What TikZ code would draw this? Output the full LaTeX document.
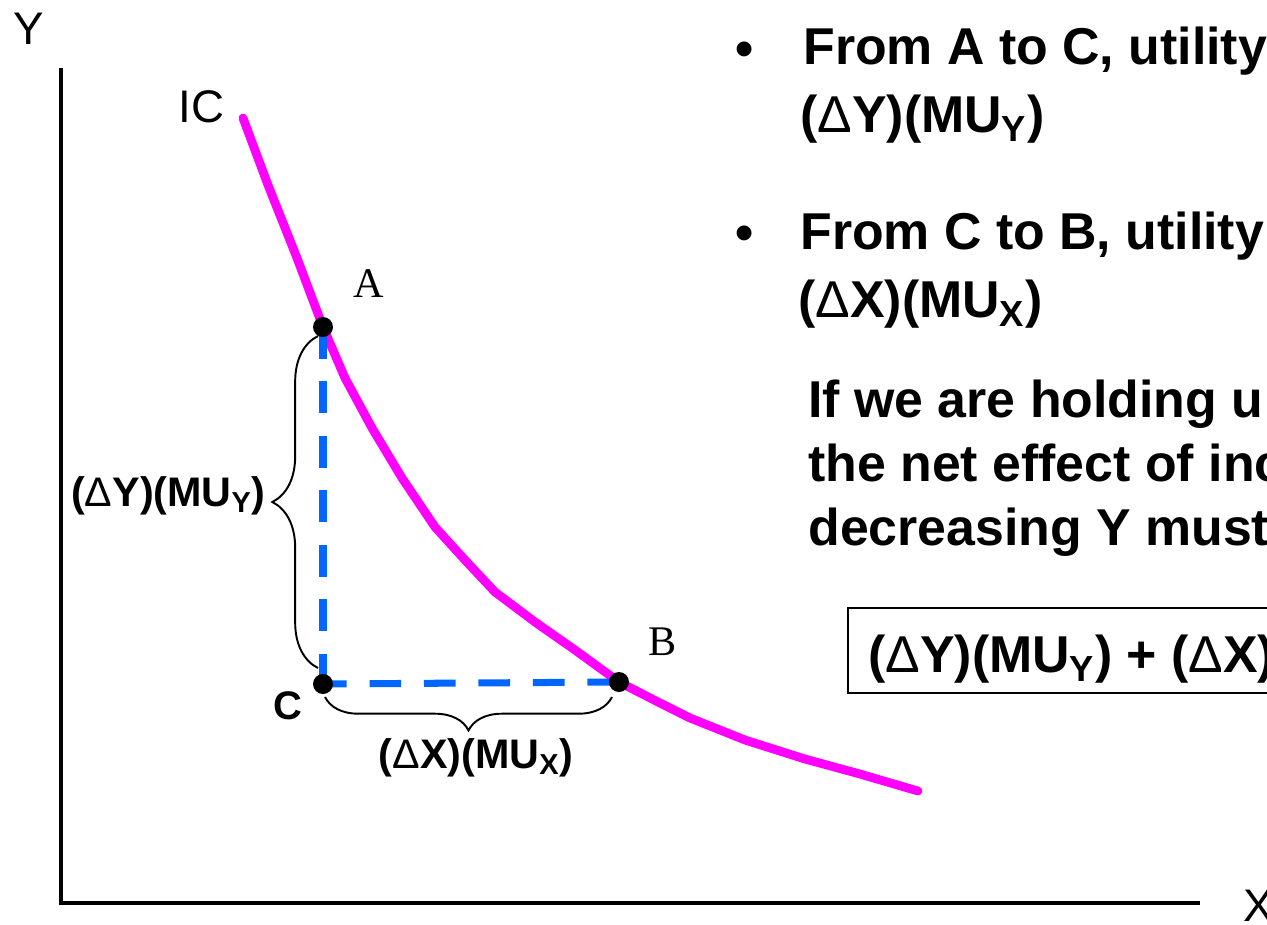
\documentclass[tikz,border=0pt]{standalone}
\usepackage{fontspec}
\setmainfont{Liberation Sans}
\newfontfamily\seriffont{Liberation Serif}
\usetikzlibrary{decorations.pathreplacing}
\definecolor{icmag}{RGB}{255,0,255}
\definecolor{dashblue}{RGB}{0,102,255}
\newcommand{\dlt}{{\mdseries Δ}}
\newcommand{\sbs}[1]{\textsubscript{#1}}
\begin{document}
\begin{tikzpicture}[x=0.02cm,y=-0.02cm,
  axisline/.style={line width=2.3pt},
  icline/.style={icmag,line width=5pt,line cap=round,line join=round},
  dashline/.style={dashblue,line width=4pt,dash pattern=on 18pt off 13pt},
  dot/.style={circle,fill=black,inner sep=0pt,minimum size=0.4cm},
  bracestyle/.style={decorate,line width=1.1pt},
  bigtxt/.style={font=\fontsize{29.5}{35}\selectfont\bfseries,anchor=base west,inner sep=0pt},
  axlbl/.style={font=\fontsize{26}{30}\selectfont,anchor=base west,inner sep=0pt},
  ptlbl/.style={font=\fontsize{24}{28}\seriffont,anchor=base west,inner sep=0pt},
  brlbl/.style={font=\fontsize{23.5}{28}\selectfont\bfseries,inner sep=0pt}
]
\useasboundingbox (0,0) rectangle (1267,924);
\clip (0,0) rectangle (1267,924);

% axes
\coordinate (ytop) at (61,68);
\coordinate (orig) at (61,903);
\coordinate (xend) at (1200,903);
\draw[axisline] (ytop) -- (orig) -- (xend);
\node[axlbl] (ylab) at (13,44) {Y};
\node[axlbl] (xlab) at (1243,921) {X};

% points
\coordinate (pA) at (323,327);
\coordinate (pB) at (619,682);
\coordinate (pC) at (323,684);

% IC curve
\draw[icline] (243,118) -- (268,185) -- (297,258) -- (pA) -- (345,378) -- (372,428)
  -- (402,478) -- (435,527) -- (465,560) -- (495,592) -- (535,622) -- (575,650)
  -- (pB) -- (660,703) -- (690,718) -- (745,740) -- (805,759) -- (860,774) -- (918,791);
\node[axlbl] (iclab) at (178,122) {IC};

% dashed lines
\draw[dashline] (pA) -- (pC);
\draw[dashline] (pB) -- (pC);

% dots
\node[dot] (A) at (pA) {};
\node[dot] (B) at (pB) {};
\node[dot] (C) at (pC) {};
\node[ptlbl] (labA) at (353,297) {A};
\node[ptlbl] (labB) at (648,655) {B};
\node[font=\fontsize{22.7}{26}\selectfont\bfseries,anchor=base west,inner sep=0pt] (labC) at (273,719) {C};

% braces
\draw[bracestyle,decoration={brace,amplitude=26pt}] (318,668) -- (318,336);
\draw[bracestyle,decoration={brace,amplitude=19pt}] (612,697) -- (325,697);
\node[brlbl,anchor=base east] (dylab) at (266,506) {(\dlt Y)(MU\sbs{Y})};
\node[brlbl,anchor=base] (dxlab) at (476,768) {(\dlt X)(MU\sbs{X})};

% bullets
\node[bigtxt] (b1) at (735,66) {•};
\node[bigtxt] (t1) at (803,64) {From A to C, utility};
\node[bigtxt] (t2) at (800,132) {(\dlt Y)(MU\sbs{Y})};
\node[bigtxt] (b2) at (735,250) {•};
\node[bigtxt] (t3) at (800,249) {From C to B, utility};
\node[bigtxt] (t4) at (798,317) {(\dlt X)(MU\sbs{X})};

% paragraph
\node[bigtxt] (p1) at (808,417) {If we are holding u};
\node[bigtxt] (p2) at (808,481) {the net effect of inc};
\node[bigtxt] (p3) at (808,545) {decreasing Y must};

% boxed equation
\draw[line width=1pt] (848,608) rectangle (1320,693);
\node[bigtxt] (eq) at (868,672) {(\dlt Y)(MU\sbs{Y}) + (\dlt X)};
\end{tikzpicture}
\end{document}
